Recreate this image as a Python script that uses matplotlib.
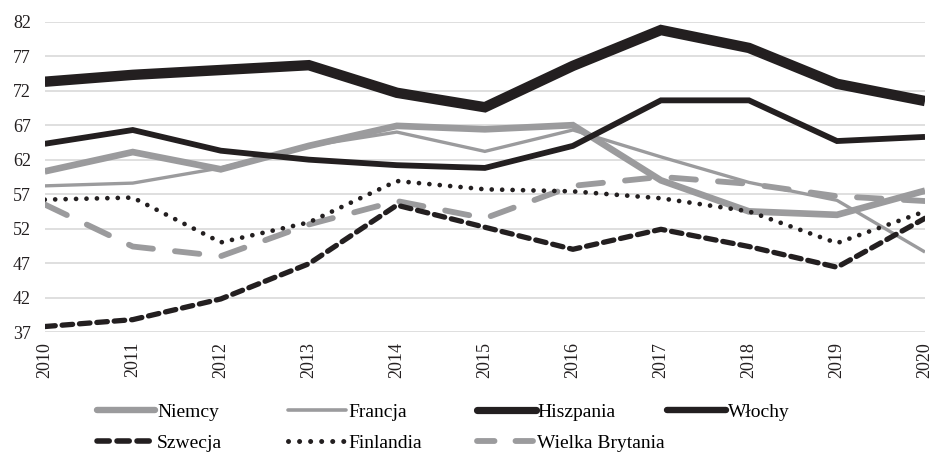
import matplotlib
matplotlib.use("Agg")
import matplotlib.pyplot as plt
from matplotlib.lines import Line2D

years = list(range(2010, 2021))

niemcy = [60.3, 63.1, 60.6, 64.0, 66.9, 66.4, 67.0, 59.0, 54.5, 54.0, 57.5]
francja = [58.2, 58.6, 60.8, 64.0, 66.0, 63.2, 66.3, 62.4, 58.7, 56.1, 48.6]
hiszpania = [73.3, 74.3, 75.0, 75.7, 71.7, 69.6, 75.6, 80.8, 78.2, 73.0, 70.5]
wlochy = [64.3, 66.3, 63.3, 62.0, 61.2, 60.8, 64.0, 70.6, 70.6, 64.7, 65.3]
szwecja = [37.8, 38.8, 41.8, 46.9, 55.4, 52.2, 49.0, 51.9, 49.4, 46.4, 53.5]
finlandia = [56.2, 56.5, 50.0, 52.9, 58.9, 57.7, 57.4, 56.4, 54.5, 49.9, 54.5]
wielka_brytania = [55.5, 49.4, 48.0, 52.6, 56.0, 53.5, 58.2, 59.5, 58.5, 56.7, 56.0]

y_ticks = [37, 42, 47, 52, 57, 62, 67, 72, 77, 82]

GRAY = "#9b9b9d"
BLACK = "#231f20"

plt.rcParams["font.family"] = ["Liberation Serif", "DejaVu Serif"]

fig = plt.figure(figsize=(9.32, 4.53), dpi=100)
ax = fig.add_axes([0.048, 0.267, 0.9445, 0.685])

# name -> (values, line style in plot, line style in legend)
styles = {
    "Niemcy": (niemcy, dict(color=GRAY, lw=4.8),
               dict(color=GRAY, lw=4.6)),
    "Francja": (francja, dict(color=GRAY, lw=2.4),
                dict(color=GRAY, lw=2.6)),
    "Wielka Brytania": (wielka_brytania,
                        dict(color=GRAY, lw=4.2, dashes=(4.2, 3.8)),
                        dict(color=GRAY, lw=4.2, dashes=(3.0, 3.6))),
    "Szwecja": (szwecja, dict(color=BLACK, lw=3.8, dashes=(2.0, 1.3)),
                dict(color=BLACK, lw=4.0, dashes=(2.2, 1.4))),
    "Finlandia": (finlandia, dict(color=BLACK, lw=3.4, dashes=(0.01, 2.2)),
                  dict(color=BLACK, lw=3.6, dashes=(0.01, 2.2))),
    "Włochy": (wlochy, dict(color=BLACK, lw=4.2),
               dict(color=BLACK, lw=4.6)),
    "Hiszpania": (hiszpania, dict(color=BLACK, lw=7.5),
                  dict(color=BLACK, lw=5.2)),
}

for name, (vals, st, _) in styles.items():
    ax.plot(years, vals, label=name, solid_joinstyle="miter",
            solid_capstyle="butt", dash_capstyle="round", **st)

ax.set_xlim(2010, 2020)
ax.set_ylim(37, 82)
ax.set_yticks(y_ticks)
ax.set_xticks(years)
ax.set_xticklabels([str(y) for y in years], rotation=90)
ax.tick_params(axis="both", length=0, labelsize=13, colors=BLACK)
ax.tick_params(axis="x", pad=7)
ax.tick_params(axis="y", pad=10)
ax.grid(axis="y", color="#d9d9d9", lw=1.2)
ax.set_axisbelow(True)
for s in ax.spines.values():
    s.set_visible(False)

# legend laid out in fixed-width columns
legend_order = [
    ("Niemcy", 0, 0), ("Francja", 1, 0), ("Hiszpania", 2, 0), ("Włochy", 3, 0),
    ("Szwecja", 0, 1), ("Finlandia", 1, 1), ("Wielka Brytania", 2, 1),
]
col_x = [0.104, 0.309, 0.512, 0.716]
row_y = [0.0905, 0.022]
for name, c, r in legend_order:
    h = Line2D([], [], solid_capstyle="round", dash_capstyle="round",
               **styles[name][2])
    fig.legend(handles=[h], labels=[name], loc="center left",
               bbox_to_anchor=(col_x[c], row_y[r]), frameon=False,
               fontsize=14, handlelength=3.0, handletextpad=0.1,
               borderpad=0, borderaxespad=0)

fig.savefig("out.png", dpi=100)
